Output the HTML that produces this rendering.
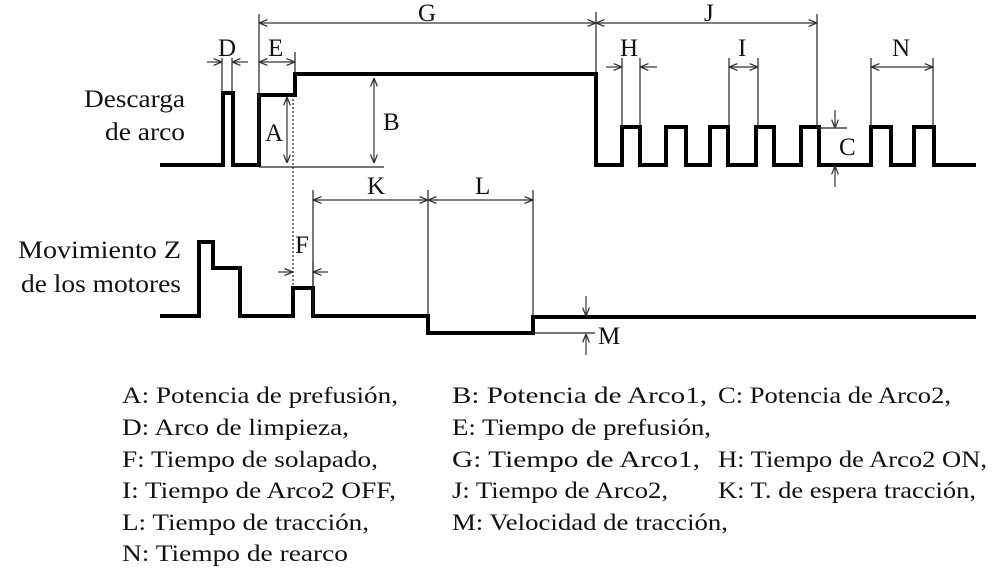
<!DOCTYPE html>
<html><head><meta charset="utf-8"><style>
html,body{margin:0;padding:0;background:#fff;}
svg{display:block;}
text{font-family:"Liberation Serif",serif;fill:#111;}
</style></head><body>
<svg width="1002" height="578" viewBox="0 0 1002 578" xmlns="http://www.w3.org/2000/svg">
<defs>
<marker id="a" viewBox="0 0 10 10" refX="10" refY="5" markerWidth="7" markerHeight="7" orient="auto-start-reverse"><path d="M0,1 L10,5 L0,9" fill="none" stroke="#333" stroke-width="1.5"/></marker>
</defs>
<g fill="none" stroke="#000" stroke-width="4" stroke-linejoin="miter">
<polyline points="160,165 223,165 223,93 233,93 233,165 259,165 259,95 295,95 295,74 596,74 596,165 622,165 622,127 640,127 640,165 666,165 666,127 686,127 686,165 710,165 710,127 728,127 728,165 756,165 756,127 774,127 774,165 801,165 801,127 819,127 819,165 871,165 871,127 891,127 891,165 914,165 914,127 934,127 934,165 976,165"/>
<polyline points="160,316 199,316 199,242 213,242 213,268 240,268 240,316 293,316 293,288 313,288 313,316 428,316 428,333 533,333 533,317 976,317"/>
</g>
<g stroke="#222" stroke-width="1.2" fill="none">
<line x1="259" y1="14" x2="259" y2="165"/><line x1="596" y1="12" x2="596" y2="74"/>
<line x1="817" y1="14" x2="817" y2="128"/>
<line x1="222" y1="58" x2="222" y2="93"/><line x1="232" y1="58" x2="232" y2="93"/>
<line x1="295" y1="52" x2="295" y2="74"/>
<line x1="622" y1="58" x2="622" y2="127"/><line x1="640" y1="58" x2="640" y2="127"/>
<line x1="729" y1="58" x2="729" y2="127"/><line x1="758" y1="58" x2="758" y2="127"/>
<line x1="871" y1="58" x2="871" y2="127"/><line x1="933" y1="58" x2="933" y2="127"/>
<line x1="259" y1="167" x2="384" y2="167"/>
<line x1="817" y1="128" x2="847" y2="128"/>
<line x1="313" y1="190" x2="313" y2="316"/><line x1="428" y1="190" x2="428" y2="316"/><line x1="533" y1="190" x2="533" y2="316"/>
<line x1="533" y1="333" x2="595" y2="333"/>
<line x1="293" y1="95" x2="293" y2="285" stroke-dasharray="2,2"/>
<line x1="313" y1="262" x2="313" y2="288"/>
</g>
<g stroke="#333" stroke-width="1.2" fill="none" marker-end="url(#a)">
<line x1="259" y1="23" x2="596" y2="23" marker-start="url(#a)"/>
<line x1="596" y1="23" x2="817" y2="23" marker-start="url(#a)"/>
<line x1="259" y1="62" x2="295" y2="62" marker-start="url(#a)"/>
<line x1="207" y1="62" x2="222" y2="62"/><line x1="248" y1="62" x2="232" y2="62"/>
<line x1="606" y1="67" x2="622" y2="67"/><line x1="657" y1="67" x2="640" y2="67"/>
<line x1="729" y1="67" x2="758" y2="67" marker-start="url(#a)"/>
<line x1="871" y1="67" x2="933" y2="67" marker-start="url(#a)"/>
<line x1="287" y1="97" x2="287" y2="163" marker-start="url(#a)"/>
<line x1="374" y1="78" x2="374" y2="163" marker-start="url(#a)"/>
<line x1="835" y1="110" x2="835" y2="128"/><line x1="835" y1="187" x2="835" y2="166"/>
<line x1="313" y1="200" x2="428" y2="200" marker-start="url(#a)"/>
<line x1="428" y1="200" x2="533" y2="200" marker-start="url(#a)"/>
<line x1="278" y1="272" x2="293" y2="272"/><line x1="328" y1="272" x2="313" y2="272"/>
<line x1="586" y1="296" x2="586" y2="316"/><line x1="586" y1="355" x2="586" y2="334"/>
</g>
<g font-size="25">
<text x="218" y="56">D</text><text x="268" y="56">E</text><text x="418" y="21">G</text>
<text x="704" y="21">J</text><text x="620" y="56">H</text><text x="738" y="56">I</text><text x="892" y="56">N</text>
<text x="265" y="141">A</text><text x="383" y="130">B</text><text x="839" y="155">C</text>
<text x="367" y="194">K</text><text x="475" y="194">L</text><text x="295" y="253">F</text><text x="598" y="344">M</text>
</g>
<g font-size="25" text-anchor="end">
<text x="185" y="107" textLength="101" lengthAdjust="spacingAndGlyphs">Descarga</text>
<text x="185" y="140" textLength="80" lengthAdjust="spacingAndGlyphs">de arco</text>
<text x="181" y="258" textLength="163" lengthAdjust="spacingAndGlyphs">Movimiento Z</text>
<text x="181" y="292" textLength="160" lengthAdjust="spacingAndGlyphs">de los motores</text>
</g>
<g font-size="23.5">
<text x="122" y="403" textLength="276" lengthAdjust="spacingAndGlyphs">A: Potencia de prefusión,</text>
<text x="122" y="435" textLength="227" lengthAdjust="spacingAndGlyphs">D: Arco de limpieza,</text>
<text x="122" y="467" textLength="256" lengthAdjust="spacingAndGlyphs">F: Tiempo de solapado,</text>
<text x="122" y="498" textLength="274" lengthAdjust="spacingAndGlyphs">I: Tiempo de Arco2 OFF,</text>
<text x="122" y="530" textLength="247" lengthAdjust="spacingAndGlyphs">L: Tiempo de tracción,</text>
<text x="122" y="561" textLength="226" lengthAdjust="spacingAndGlyphs">N: Tiempo de rearco</text>
<text x="452" y="403" textLength="255" lengthAdjust="spacingAndGlyphs">B: Potencia de Arco1,</text>
<text x="452" y="435" textLength="259" lengthAdjust="spacingAndGlyphs">E: Tiempo de prefusión,</text>
<text x="452" y="467" textLength="248" lengthAdjust="spacingAndGlyphs">G: Tiempo de Arco1,</text>
<text x="452" y="498" textLength="216" lengthAdjust="spacingAndGlyphs">J: Tiempo de Arco2,</text>
<text x="452" y="530" textLength="276" lengthAdjust="spacingAndGlyphs">M: Velocidad de tracción,</text>
<text x="718" y="403" textLength="233" lengthAdjust="spacingAndGlyphs">C: Potencia de Arco2,</text>
<text x="718" y="467" textLength="269" lengthAdjust="spacingAndGlyphs">H: Tiempo de Arco2 ON,</text>
<text x="718" y="498" textLength="258" lengthAdjust="spacingAndGlyphs">K: T. de espera tracción,</text>
</g>
</svg>
</body></html>
